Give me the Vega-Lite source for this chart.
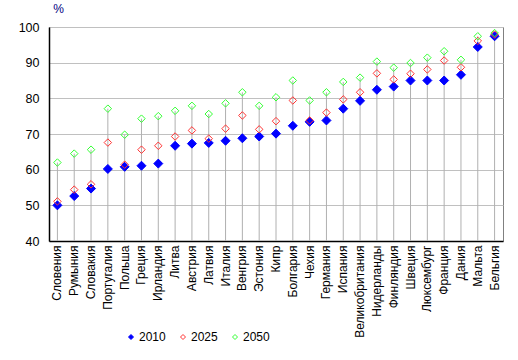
{
  "$schema": "https://vega.github.io/schema/vega-lite/v6.json",
  "autosize": "none",
  "width": 454,
  "height": 214,
  "padding": {"left": 49, "top": 27, "right": 15, "bottom": 119},
  "background": "white",
  "config": {
    "view": {"stroke": "#808080", "strokeWidth": 1},
    "font": "Liberation Sans",
    "axis": {"labelFont": "Liberation Sans", "titleFont": "Liberation Sans"},
    "legend": {"labelFont": "Liberation Sans"}
  },
  "data": {
    "values": [
      {"country": "Словения", "year": "2010", "value": 50.0},
      {"country": "Румыния", "year": "2010", "value": 52.6},
      {"country": "Словакия", "year": "2010", "value": 54.7},
      {"country": "Португалия", "year": "2010", "value": 60.2},
      {"country": "Польша", "year": "2010", "value": 60.8},
      {"country": "Греция", "year": "2010", "value": 61.1},
      {"country": "Ирландия", "year": "2010", "value": 61.7},
      {"country": "Литва", "year": "2010", "value": 66.7},
      {"country": "Австрия", "year": "2010", "value": 67.3},
      {"country": "Латвия", "year": "2010", "value": 67.5},
      {"country": "Италия", "year": "2010", "value": 68.1},
      {"country": "Венгрия", "year": "2010", "value": 68.8},
      {"country": "Эстония", "year": "2010", "value": 69.3},
      {"country": "Кипр", "year": "2010", "value": 70.1},
      {"country": "Болгария", "year": "2010", "value": 72.3},
      {"country": "Чехия", "year": "2010", "value": 73.4},
      {"country": "Германия", "year": "2010", "value": 73.8},
      {"country": "Испания", "year": "2010", "value": 77.1},
      {"country": "Великобритания", "year": "2010", "value": 79.3},
      {"country": "Нидерланды", "year": "2010", "value": 82.4},
      {"country": "Финляндия", "year": "2010", "value": 83.3},
      {"country": "Швеция", "year": "2010", "value": 85.0},
      {"country": "Люксембург", "year": "2010", "value": 85.0},
      {"country": "Франция", "year": "2010", "value": 85.0},
      {"country": "Дания", "year": "2010", "value": 86.6},
      {"country": "Мальта", "year": "2010", "value": 94.4},
      {"country": "Бельгия", "year": "2010", "value": 97.4},
      {"country": "Словения", "year": "2025", "value": 51.1},
      {"country": "Румыния", "year": "2025", "value": 54.4},
      {"country": "Словакия", "year": "2025", "value": 55.9},
      {"country": "Португалия", "year": "2025", "value": 67.6},
      {"country": "Польша", "year": "2025", "value": 61.4},
      {"country": "Греция", "year": "2025", "value": 65.6},
      {"country": "Ирландия", "year": "2025", "value": 66.7},
      {"country": "Литва", "year": "2025", "value": 69.3},
      {"country": "Австрия", "year": "2025", "value": 71.0},
      {"country": "Латвия", "year": "2025", "value": 68.7},
      {"country": "Италия", "year": "2025", "value": 71.5},
      {"country": "Венгрия", "year": "2025", "value": 75.2},
      {"country": "Эстония", "year": "2025", "value": 71.3},
      {"country": "Кипр", "year": "2025", "value": 73.6},
      {"country": "Болгария", "year": "2025", "value": 79.4},
      {"country": "Чехия", "year": "2025", "value": 73.8},
      {"country": "Германия", "year": "2025", "value": 76.0},
      {"country": "Испания", "year": "2025", "value": 79.7},
      {"country": "Великобритания", "year": "2025", "value": 81.7},
      {"country": "Нидерланды", "year": "2025", "value": 87.0},
      {"country": "Финляндия", "year": "2025", "value": 85.3},
      {"country": "Швеция", "year": "2025", "value": 86.9},
      {"country": "Люксембург", "year": "2025", "value": 88.1},
      {"country": "Франция", "year": "2025", "value": 90.6},
      {"country": "Дания", "year": "2025", "value": 88.7},
      {"country": "Мальта", "year": "2025", "value": 96.1},
      {"country": "Бельгия", "year": "2025", "value": 97.9},
      {"country": "Словения", "year": "2050", "value": 62.0},
      {"country": "Румыния", "year": "2050", "value": 64.5},
      {"country": "Словакия", "year": "2050", "value": 65.6},
      {"country": "Португалия", "year": "2050", "value": 77.1},
      {"country": "Польша", "year": "2050", "value": 69.8},
      {"country": "Греция", "year": "2050", "value": 74.3},
      {"country": "Ирландия", "year": "2050", "value": 75.0},
      {"country": "Литва", "year": "2050", "value": 76.5},
      {"country": "Австрия", "year": "2050", "value": 77.9},
      {"country": "Латвия", "year": "2050", "value": 75.6},
      {"country": "Италия", "year": "2050", "value": 78.6},
      {"country": "Венгрия", "year": "2050", "value": 81.7},
      {"country": "Эстония", "year": "2050", "value": 77.9},
      {"country": "Кипр", "year": "2050", "value": 80.3},
      {"country": "Болгария", "year": "2050", "value": 85.0},
      {"country": "Чехия", "year": "2050", "value": 79.4},
      {"country": "Германия", "year": "2050", "value": 81.7},
      {"country": "Испания", "year": "2050", "value": 84.6},
      {"country": "Великобритания", "year": "2050", "value": 85.8},
      {"country": "Нидерланды", "year": "2050", "value": 90.3},
      {"country": "Финляндия", "year": "2050", "value": 88.6},
      {"country": "Швеция", "year": "2050", "value": 89.9},
      {"country": "Люксембург", "year": "2050", "value": 91.4},
      {"country": "Франция", "year": "2050", "value": 93.2},
      {"country": "Дания", "year": "2050", "value": 90.8},
      {"country": "Мальта", "year": "2050", "value": 97.4},
      {"country": "Бельгия", "year": "2050", "value": 98.3}
    ]
  },
  "encoding": {
    "x": {
      "field": "country",
      "type": "nominal",
      "sort": null,
      "scale": {"paddingInner": 0, "paddingOuter": 0},
      "axis": {
        "title": null,
        "labelAngle": -90,
        "labelAlign": "right",
        "labelBaseline": "middle",
        "labelFontSize": 12,
        "labelColor": "#000000",
        "labelPadding": 4,
        "ticks": false,
        "grid": false,
        "domainColor": "#000000",
        "domainWidth": 1.5
      }
    },
    "y": {
      "field": "value",
      "type": "quantitative",
      "scale": {"domain": [40, 100], "nice": false, "zero": false},
      "axis": {
        "title": "%",
        "titleAngle": 0,
        "titleX": 9,
        "titleY": -12,
        "titleFontSize": 12,
        "titleFontWeight": "normal",
        "titleColor": "#000080",
        "titleAlign": "center",
        "values": [40, 50, 60, 70, 80, 90, 100],
        "tickCount": 7,
        "labelOverlap": false,
        "labelFontSize": 12.5,
        "labelColor": "#000000",
        "labelPadding": 10,
        "ticks": false,
        "gridColor": "#c0c0c0",
        "gridWidth": 1,
        "domainColor": "#000000",
        "domainWidth": 1.5
      }
    },
    "color": {
      "field": "year", "type": "nominal",
      "scale": {"domain": ["2010", "2025", "2050"], "range": ["#0000ff", "#ff3333", "#33ff33"]},
      "legend": {
        "title": null,
        "orient": "none",
        "direction": "horizontal",
        "legendX": 76,
        "legendY": 304,
        "symbolSize": 25,
        "symbolType": "diamond",
        "labelFontSize": 12,
        "labelColor": "#000000",
        "labelOffset": 2,
        "columnPadding": 11,
        "symbolStrokeWidth": 1,
        "encode": {
          "symbols": {
            "update": {
              "fill": {"signal": "datum.value === '2010' ? '#0000ff' : 'transparent'"}
            }
          }
        }
      }
    },
    "fill": {
      "field": "year", "type": "nominal",
      "scale": {"domain": ["2010", "2025", "2050"], "range": ["#0000ff", "transparent", "transparent"]},
      "legend": null
    }
  },
  "layer": [
    {
      "transform": [
        {"joinaggregate": [{"op": "max", "field": "value", "as": "maxv"}], "groupby": ["country"]},
        {"filter": "datum.year === '2010'"}
      ],
      "mark": {"type": "rule", "strokeWidth": 1},
      "encoding": {
        "y": {"field": "maxv", "type": "quantitative"},
        "y2": {"datum": 40},
        "color": {"value": "#b0b0b0"},
        "fill": {"value": "#b0b0b0"}
      }
    },
    {
      "transform": [{"filter": "datum.year === '2010'"}],
      "mark": {"type": "point", "shape": "diamond", "filled": false, "size": 81, "strokeWidth": 1, "opacity": 1}
    },
    {
      "transform": [{"filter": "datum.year !== '2010'"}],
      "mark": {"type": "point", "shape": "diamond", "filled": false, "size": 56, "strokeWidth": 1, "opacity": 1}
    }
  ]
}
